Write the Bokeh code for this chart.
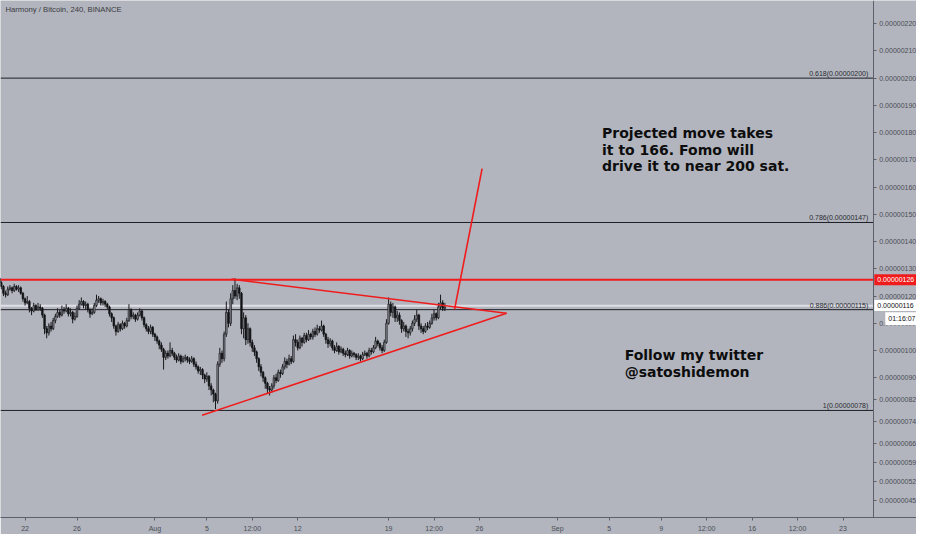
from bokeh.plotting import figure
from bokeh.models import Range1d, Label, FixedTicker
from bokeh.embed import file_html
from bokeh.resources import INLINE

# ---------------- data ----------------
title_text = "Harmony / Bitcoin, 240, BINANCE"

# price axis ticks (satoshi)
y_ticks = [45, 52, 59, 66, 74, 82, 90, 100, 110, 120, 130, 140, 150, 160, 170, 180, 190, 200, 210, 220]
# time axis ticks (days since Jul 1, 00:00)
x_ticks = [21, 25, 31, 35, 38.5, 42, 49, 52.5, 56, 62, 66, 70, 73.5, 77, 80.5, 84]
x_labels = ["22", "26", "Aug", "5", "12:00", "12", "19", "12:00", "26", "Sep", "5", "9", "12:00", "16", "12:00", "23"]

# 4h candles from Jul 20 00:00 (day 19.0)
first_candle_day = 19.0
candle_hours = 4
first_open = 126.5
closes = [
    125, 123.5, 121, 120.5, 122.5, 123, 122, 123.5, 122.5, 123,
    121, 119, 117.5, 118, 115.5, 114.5, 116.5, 115, 116, 115.5,
    113, 108, 106.5, 109, 108, 111, 112.5, 114, 113, 115,
    114.5, 115.5, 113.5, 114, 111.5, 112.5, 115.5, 117, 118, 116.5,
    117, 115, 113.5, 114, 116.5, 118.5, 119, 117.5, 118, 117,
    116, 113.5, 112, 109, 107, 109.5, 108, 110, 109, 111,
    115, 112.5, 113, 111.5, 113, 114.5, 112, 109.5, 108, 107,
    108.5, 106, 105, 103.5, 102, 100.5, 97.5, 99, 98, 100,
    99, 97.5, 96.5, 98, 96, 97, 97.5, 96.5, 96, 97,
    95, 94, 92.5, 93, 91, 89.5, 90.5, 87, 85.5, 84,
    81.5, 95, 99, 97, 106, 114, 110, 119, 122, 120,
    123, 121, 108, 112, 104, 108, 103, 101, 99.5, 97,
    94, 92, 90, 88, 86, 85.5, 87, 90, 89, 92,
    91.5, 94, 96, 95, 97, 96, 104, 103, 101, 104.5,
    103, 105.5, 104, 106, 105, 107, 106, 108, 107.5, 109,
    106, 104, 102.5, 103.5, 101, 100, 101.5, 99.5, 100.5, 99,
    98.5, 100, 98, 99, 98.5, 97.5, 98, 97, 98.5, 99,
    98, 100, 99.5, 101, 103.5, 102.5, 101, 100, 103, 110,
    117, 114, 116, 112, 113, 111, 108, 109, 107, 106.5,
    108, 110, 111.5, 113, 109, 108, 107, 109, 108.5, 110,
    112, 113.5, 112, 116, 117.5, 115.5, 116,
]
highs = [
    127.5, 125.5, 124, 122, 123.5, 124, 123.5, 124.5, 124, 124,
    123.5, 121.5, 119.5, 120, 118.5, 116, 117.5, 117, 117.5, 117,
    116, 113.5, 109, 110, 110.5, 112, 113.5, 115.5, 115, 116.5,
    116, 117, 116, 115.5, 114.5, 114, 116.5, 118.5, 119.5, 118.5,
    118, 117.5, 115.5, 115.5, 117.5, 120.5, 120, 119.5, 119, 118.5,
    117.5, 116.5, 114, 112.5, 109.5, 110.5, 110, 111, 110.5, 112,
    117, 115.5, 114, 113.5, 114, 115.5, 115, 112.5, 110, 109,
    109.5, 109, 106.5, 105.5, 104, 103, 101, 100, 100, 103,
    101, 99.5, 98.5, 99, 98.5, 98, 98.5, 98, 97.5, 98,
    97.5, 96, 94.5, 94, 93.5, 91.5, 92, 91, 88, 86,
    84.5, 96, 101, 100, 107, 118, 115, 121, 124, 126.5,
    124.5, 124, 121.5, 114, 113, 110, 108.5, 104, 102, 100,
    97.5, 95, 92.5, 90.5, 88.5, 87, 88, 91, 91.5, 93,
    93, 95, 97.5, 97, 98.5, 98, 105.5, 106, 104, 105.5,
    105, 106.5, 106.5, 107.5, 106.5, 108, 108.5, 109.5, 109, 111,
    109.5, 106.5, 105, 104.5, 104, 102, 103, 102, 101.5, 101,
    100, 101, 100.5, 100, 99.5, 99, 99, 98.5, 99.5, 100,
    99.5, 101, 101, 102, 105, 104, 103, 102, 104, 111.5,
    119.5, 118, 117.5, 116.5, 114.5, 114, 111.5, 110.5, 109.5, 108,
    109, 111, 113, 115, 113.5, 110, 109, 110, 110.5, 111,
    113.5, 115, 114, 117.5, 120.5, 118.5, 117.5,
]
lows = [
    124.5, 122.5, 120, 119.5, 120, 122, 121, 121.5, 122, 121.5,
    120.5, 118, 116.5, 117, 114, 113, 114, 114.5, 114.5, 114.5,
    112, 106, 104.5, 105.5, 107, 107.5, 110, 112, 112, 112.5,
    113.5, 114, 112.5, 112.5, 110, 111, 112, 115, 116.5, 115.5,
    115, 114, 112, 113, 113.5, 116, 117.5, 116.5, 116.5, 116,
    115, 112.5, 110.5, 108, 105.5, 106.5, 107, 107.5, 108, 108.5,
    110.5, 111.5, 111.5, 110.5, 111, 112.5, 111, 108.5, 107, 106,
    106, 105, 103.5, 102.5, 100.5, 99.5, 93, 96.5, 97, 97.5,
    98, 96.5, 95.5, 96, 95, 95.5, 96, 95.5, 95, 95.5,
    94, 93, 91.5, 91, 89.5, 88, 88.5, 85.5, 83.5, 81,
    78.5, 80.5, 94, 95.5, 96, 105, 108.5, 109, 117, 119,
    118.5, 119, 106, 104.5, 102, 102.5, 101.5, 99.5, 98, 95.5,
    92.5, 90.5, 88.5, 86, 84, 83.5, 84.5, 86, 88, 88.5,
    90, 91, 93, 93.5, 94.5, 95, 95.5, 101.5, 100, 100.5,
    101.5, 102.5, 103, 103.5, 104, 104, 105, 105.5, 106.5, 107,
    105, 102.5, 101, 101.5, 100, 99, 99.5, 98.5, 99, 98,
    97.5, 98, 97, 97.5, 97.5, 96.5, 96.5, 96, 96.5, 98,
    97, 97.5, 98.5, 99, 100.5, 101.5, 100, 99, 99.5, 102.5,
    109.5, 112.5, 112, 110.5, 110.5, 109.5, 106.5, 107, 105, 104.5,
    105.5, 107, 109, 110.5, 107.5, 106.5, 106, 106.5, 107.5, 108,
    109.5, 111, 111, 111.5, 115, 114.5, 114.5,
]

# levels (satoshi)
red_level = 126
current_price = 116
countdown = "01:16:07"
fib_levels = [200, 147, 115, 78]
fib_ratios = ["0.618", "0.786", "0.886", "1"]

# drawn trend lines: (day, satoshi) end points
falling_x, falling_y = [36.90, 58.09], [126.2, 113.7]
rising_x, rising_y = [34.63, 58.09], [76.2, 113.7]
target_x, target_y = [54.08, 56.20], [115.1, 166.8]

note_1 = ["Projected move takes", "it to 166. Fomo will", "drive it to near 200 sat."]
note_2 = ["Follow my twitter", "@satoshidemon"]

# ---------------- figure ----------------
X0, X1 = 19.107, 89.66      # full width of the chart (incl. price scale area)
X_AXIS = 86.33              # price-scale line position
Y0, Y1 = 38.7, 228.5
BG = "#b2b5be"
RED = "#f01c1c"
AXIS = "#5d606b"
TICKTXT = "#4a4d55"

p = figure(width=916, height=534, output_backend="svg", toolbar_location=None,
           x_range=Range1d(X0, X1), y_range=Range1d(Y0, Y1),
           y_axis_location="right", min_border_left=0, min_border_top=0,
           min_border_right=0, min_border_bottom=17)
p.background_fill_color = BG
p.border_fill_color = BG
p.outline_line_color = None
p.grid.visible = False

# axes
p.yaxis.fixed_location = X_AXIS
p.yaxis.ticker = FixedTicker(ticks=y_ticks)
p.yaxis.major_label_overrides = {t: "0.%08d" % t for t in y_ticks}
p.xaxis.ticker = FixedTicker(ticks=x_ticks)
p.xaxis.major_label_overrides = {t: lab for t, lab in zip(x_ticks, x_labels)}
for ax in (p.xaxis[0], p.yaxis[0]):
    ax.axis_line_color = AXIS
    ax.axis_line_width = 1
    ax.major_tick_line_color = AXIS
    ax.major_tick_in = 0
    ax.major_tick_out = 3
    ax.minor_tick_line_color = None
    ax.major_label_text_font = "Liberation Sans"
    ax.major_label_text_font_size = "7px"
    ax.major_label_text_color = TICKTXT
p.yaxis.major_label_standoff = 3
p.xaxis.major_label_standoff = 4

# fib levels
k = len(fib_levels)
p.segment([X0] * k, fib_levels, [X_AXIS] * k, fib_levels, line_color="#1f2026", line_width=1)
for lvl, ratio in zip(fib_levels, fib_ratios):
    p.add_layout(Label(x=85.95, y=lvl + 0.4, text="%s(0.%08d)" % (ratio, lvl), text_align="right",
                       text_baseline="bottom", text_font="Liberation Sans", text_font_size="7px",
                       text_color="#2a2b30"))

# current price line
p.segment([X0], [current_price + 0.4], [X_AXIS], [current_price + 0.4], line_color="#eeeef3",
          line_width=2, line_alpha=0.75)
# red horizontal resistance
p.segment([X0], [red_level], [X_AXIS], [red_level], line_color=RED, line_width=2)

# candles
n = len(closes)
t = [first_candle_day + i * candle_hours / 24 for i in range(n)]
opens = [first_open] + closes[:-1]
hi = [max(h, o, c) for h, o, c in zip(highs, opens, closes)]
lo = [min(l, o, c) for l, o, c in zip(lows, opens, closes)]
p.segment(t, hi, t, lo, line_color="#18191c", line_width=1)
up = [i for i in range(n) if closes[i] >= opens[i]]
dn = [i for i in range(n) if closes[i] < opens[i]]
bw = 0.12
p.vbar(x=[t[i] for i in up], top=[closes[i] for i in up], bottom=[opens[i] for i in up], width=bw,
       fill_color="#8e9098", line_color="#18191c", line_width=0.7)
p.vbar(x=[t[i] for i in dn], top=[opens[i] for i in dn], bottom=[closes[i] for i in dn], width=bw,
       fill_color="#131417", line_color="#131417", line_width=0.7)

# trend lines
p.line(falling_x, falling_y, line_color=RED, line_width=1.6)
p.line(rising_x, rising_y, line_color=RED, line_width=1.6)
p.line(target_x, target_y, line_color=RED, line_width=1.6)

# title
p.add_layout(Label(x=19.49, y=225.3, text=title_text, text_baseline="middle",
                   text_font="Liberation Sans", text_font_size="7.7px", text_color="#3a3b42"))

# notes
for j, line in enumerate(note_1):
    p.add_layout(Label(x=65.44, y=179.7 - j * 6.07, text=line, text_baseline="middle",
                       text_font="DejaVu Sans", text_font_style="bold", text_font_size="14px",
                       text_color="#0d0d0d"))
for j, line in enumerate(note_2):
    p.add_layout(Label(x=67.18, y=98.3 - j * 6.07, text=line, text_baseline="middle",
                       text_font="DejaVu Sans", text_font_style="bold", text_font_size="14px",
                       text_color="#0d0d0d"))

# price-scale badges
p.add_layout(Label(x=X_AXIS, y=red_level, x_offset=1, text="0.%08d" % red_level, text_baseline="middle",
                   text_font="Liberation Sans", text_font_size="7px", text_color="white",
                   background_fill_color=RED, padding=3))
p.add_layout(Label(x=X_AXIS, y=current_price + 0.5, x_offset=1, text="0.%08d" % current_price,
                   text_baseline="middle", text_font="Liberation Sans", text_font_size="7px",
                   text_color="#111111", background_fill_color="white", padding=3))
p.add_layout(Label(x=X_AXIS, y=current_price - 4.3, x_offset=12, text=countdown,
                   text_baseline="middle", text_font="Liberation Sans", text_font_size="7px",
                   text_color="#111111", background_fill_color="white", padding=3))

open("out.html", "w").write(file_html(p, INLINE))
